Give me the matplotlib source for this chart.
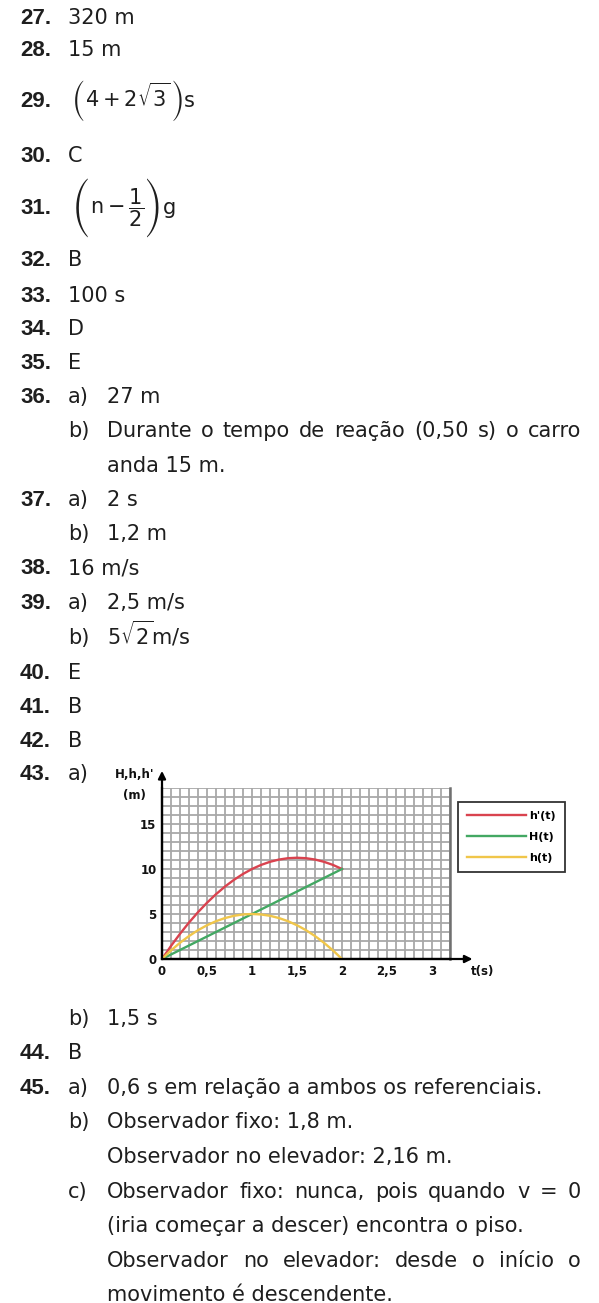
import matplotlib
matplotlib.use("Agg")
import matplotlib.pyplot as plt
from matplotlib.ticker import MultipleLocator

plt.rcParams["font.family"] = ["DejaVu Sans"]
plt.rcParams["mathtext.fontset"] = "dejavusans"
plt.rcParams["mathtext.default"] = "regular"

W, H = 599, 1303
COR_TEXTO = "#1e1e1e"

# gráfico da questão 43
tempos = [0.0, 0.1, 0.2, 0.3, 0.4, 0.5, 0.6, 0.7, 0.8, 0.9, 1.0,
          1.1, 1.2, 1.3, 1.4, 1.5, 1.6, 1.7, 1.8, 1.9, 2.0]
h_linha = [0.0, 1.45, 2.8, 4.05, 5.2, 6.25, 7.2, 8.05, 8.8, 9.45, 10.0,
           10.45, 10.8, 11.05, 11.2, 11.25, 11.2, 11.05, 10.8, 10.45, 10.0]
h_solo = [0.0, 0.95, 1.8, 2.55, 3.2, 3.75, 4.2, 4.55, 4.8, 4.95, 5.0,
          4.95, 4.8, 4.55, 4.2, 3.75, 3.2, 2.55, 1.8, 0.95, 0.0]
tempos_H = [0.0, 2.0]
H_elevador = [0.0, 10.0]

xticks = [0, 0.5, 1, 1.5, 2, 2.5, 3]
xtick_rotulos = ["0", "0,5", "1", "1,5", "2", "2,5", "3"]
yticks = [0, 5, 10, 15]
yticks_rotulos = ["0", "5", "10", "15"]
legenda = ["h'(t)", "H(t)", "h(t)"]

# gabarito: (y do centro em px, número, item, texto, justificado)
linhas = [
    (17, "27.", "", "320 m", False),
    (49, "28.", "", "15 m", False),
    (100, "29.", "", None, False),
    (155, "30.", "", "C", False),
    (207, "31.", "", None, False),
    (259, "32.", "", "B", False),
    (295, "33.", "", "100 s", False),
    (328, "34.", "", "D", False),
    (362, "35.", "", "E", False),
    (396, "36.", "a)", "27 m", False),
    (430, "", "b)", "Durante o tempo de reação (0,50 s) o carro", True),
    (465, "", "", "anda 15 m.", False),
    (499, "37.", "a)", "2 s", False),
    (533, "", "b)", "1,2 m", False),
    (567, "38.", "", "16 m/s", False),
    (602, "39.", "a)", "2,5 m/s", False),
    (637, "", "b)", r"$5\sqrt{2}$m/s", False),
    (672, "40.", "", "E", False),
    (706, "41.", "", "B", False),
    (740, "42.", "", "B", False),
    (773, "43.", "a)", "", False),
    (1018, "", "b)", "1,5 s", False),
    (1052, "44.", "", "B", False),
    (1087, "45.", "a)", "0,6 s em relação a ambos os referenciais.", False),
    (1121, "", "b)", "Observador fixo: 1,8 m.", False),
    (1156, "", "", "Observador no elevador: 2,16 m.", False),
    (1191, "", "c)", "Observador fixo: nunca, pois quando v = 0", True),
    (1225, "", "", "(iria começar a descer) encontra o piso.", False),
    (1260, "", "", "Observador no elevador: desde o início o", True),
    (1294, "", "", "movimento é descendente.", False),
]

# expressões com parênteses grandes: (texto, família, tamanho, ajuste do avanço)
expr_29 = [("(", "STIXSizeTwoSym", 16, 0), (r"$4+2\sqrt{3}$", None, None, 0),
           (")", "STIXSizeTwoSym", 16, 0), ("s", None, None, 0)]
expr_31 = [("(", "STIXSizeThreeSym", 17, 0), (r"$n-\dfrac{1}{2}$", None, None, 1),
           (")", "STIXSizeThreeSym", 17, 0), ("g", None, None, 0)]

fig = plt.figure(figsize=(W / 100, H / 100), dpi=100)
fig.patch.set_facecolor("white")
renderer = fig.canvas.get_renderer()

X_NUM, X_ITEM, X_SUB, X_FIM = 20, 68, 107, 581
TAM = 15


def fy(y):
    return 1 - y / H


def texto_justificado(x0, x1, y, texto, **kw):
    palavras = texto.split(" ")
    objs = [fig.text(0, fy(y), p, **kw) for p in palavras]
    larguras = [o.get_window_extent(renderer).width for o in objs]
    espaco = (x1 - x0 - sum(larguras)) / (len(palavras) - 1)
    x = x0
    for o, w in zip(objs, larguras):
        o.set_x(x / W)
        x += w + espaco


def expressao(x, yc, pecas):
    for texto, familia, tam, ajuste in pecas:
        if familia:
            t = fig.text(x / W, fy(yc + 1), texto, family=familia, fontsize=tam,
                         color=COR_TEXTO, ha="left", va="center")
        else:
            t = fig.text(x / W, fy(yc + 7), texto, fontsize=TAM,
                         color=COR_TEXTO, ha="left", va="baseline")
        x += t.get_window_extent(renderer).width + ajuste


for y, num, item, texto, just in linhas:
    yb = y + 7
    estilo = dict(fontsize=TAM, color=COR_TEXTO, va="baseline", ha="left")
    if num:
        fig.text(X_NUM / W, fy(yb), num, fontweight="bold", fontsize=16,
                 family="Liberation Sans", color=COR_TEXTO, va="baseline", ha="left")
    if item:
        fig.text(X_ITEM / W, fy(yb), item, **estilo)
    x0 = X_SUB if (item or not num) else X_ITEM
    if not texto:
        continue
    if just:
        texto_justificado(x0, X_FIM, yb, texto, **estilo)
    else:
        fig.text(x0 / W, fy(yb), texto, **estilo)

expressao(72, 100, expr_29)
expressao(72, 207, expr_31)

# gráfico
px_s, px_m = 90, 9
x_orig, y_orig = 162, 959
ax = fig.add_axes([x_orig / W, (H - y_orig) / H, 3.2 * px_s / W, 19 * px_m / H])
ax.set_xlim(0, 3.2)
ax.set_ylim(0, 19)
ax.xaxis.set_minor_locator(MultipleLocator(0.1))
ax.yaxis.set_minor_locator(MultipleLocator(1))
ax.grid(which="both", color="#a8a8a8", lw=1.3)
ax.set_axisbelow(True)
ax.set_xticks(xticks, xtick_rotulos, fontsize=8.5, fontweight="bold")
ax.set_yticks(yticks, yticks_rotulos, fontsize=8.5, fontweight="bold")
ax.tick_params(which="both", length=0, pad=4, colors="#111111")
ax.spines["top"].set_visible(False)
ax.spines["right"].set_color("#707070")
ax.spines["right"].set_linewidth(1.8)
for s in ["left", "bottom"]:
    ax.spines[s].set_linewidth(1.6)

l1, = ax.plot(tempos, h_linha, color="#d9434f", lw=1.7, zorder=3)
l2, = ax.plot(tempos_H, H_elevador, color="#43a863", lw=1.7, zorder=3)
l3, = ax.plot(tempos, h_solo, color="#f0c64a", lw=1.7, zorder=3)

seta = dict(arrowstyle="-|>", color="black", lw=1.6, mutation_scale=11, shrinkA=0, shrinkB=0)
ax.annotate("", xy=(0, 20.9), xytext=(0, 0), annotation_clip=False, arrowprops=seta)
ax.annotate("", xy=(3.45, 0), xytext=(0, 0), annotation_clip=False, arrowprops=seta)

rot = dict(fontsize=8.5, fontweight="bold", ha="center", va="center", color="#111111")
fig.text(135 / W, fy(775), "H,h,h'", **rot)
fig.text(134 / W, fy(796), "(m)", **rot)
fig.text(483 / W, fy(972), "t(s)", **rot)

leg = fig.legend([l1, l2, l3], legenda, loc="upper left",
                 bbox_to_anchor=(458 / W, fy(802)),
                 prop=dict(size=8, weight="bold"),
                 handlelength=5.3, handletextpad=0.3, labelspacing=1.0,
                 borderpad=0.8, borderaxespad=0, fancybox=False,
                 frameon=True, edgecolor="black")
leg.get_frame().set_linewidth(1.3)

fig.savefig("out.png", dpi=100, facecolor="white")
